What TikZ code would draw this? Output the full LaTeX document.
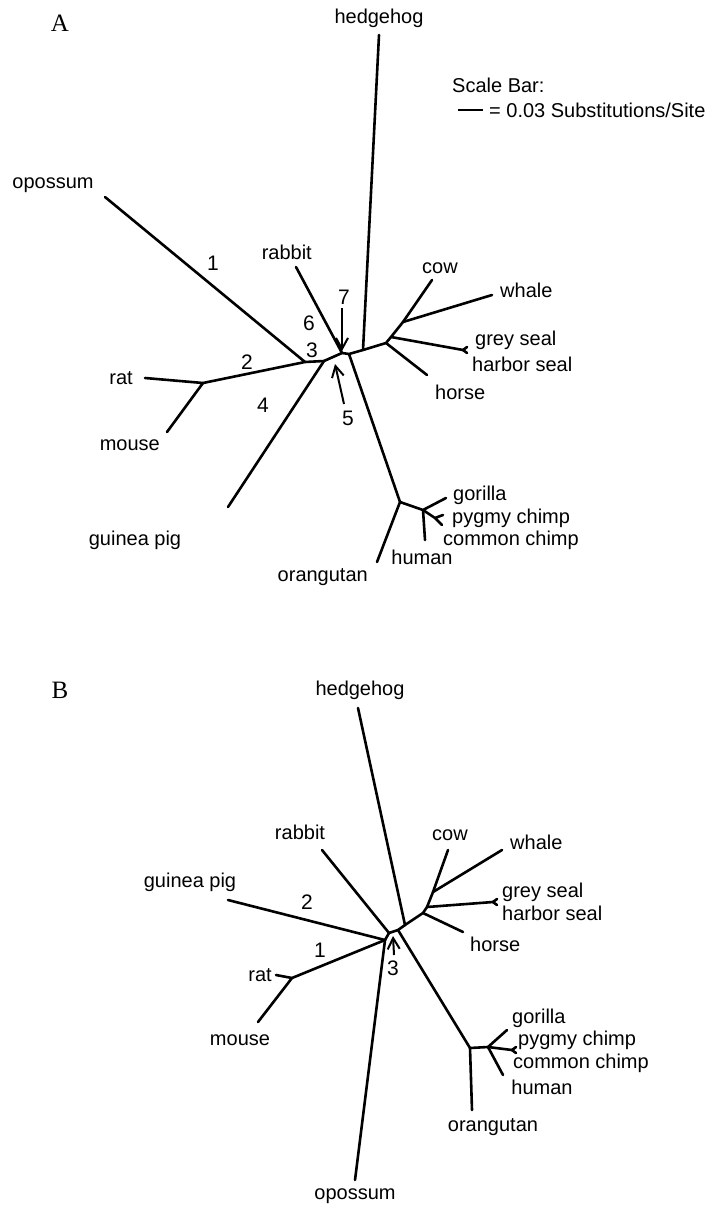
\documentclass[tikz,border=0pt]{standalone}
\usepackage{fontspec}
\setmainfont{Liberation Sans}
\newfontfamily\panelfont{Liberation Serif}
\usetikzlibrary{arrows.meta}
\begin{document}
\begin{tikzpicture}[x=1pt,y=-1pt,
  branch/.style={line width=2.6pt, line cap=round, line join=round},
  lbl/.style={font=\fontsize{20}{20}\selectfont, inner sep=0pt},
  num/.style={font=\fontsize{21}{21}\selectfont, inner sep=0pt},
  pointer/.style={line width=2pt, -{Straight Barb[length=11pt,width=12pt,line width=2pt]}},
  panel/.style={font=\panelfont\fontsize{25}{25}\selectfont, inner sep=0pt}]
\useasboundingbox (0,0) rectangle (707,1209);

% ---------------- Panel A ----------------
\node[panel] (pA) at (60,23) {A};

% internal nodes
\coordinate (aOp) at (305,362);
\coordinate (aGp) at (324,361);
\coordinate (aRb) at (342,353);
\coordinate (aPr) at (349,354);
\coordinate (aHh) at (363,350);
\coordinate (aHo) at (386,343);
\coordinate (aSl) at (391,337);
\coordinate (aCw) at (403,322);
\coordinate (aRm) at (203,383);
\coordinate (aPo) at (400,502);
\coordinate (aAp) at (423,510);
\coordinate (aCh) at (435,518);

% leaves
\coordinate (aOpT) at (105,197);
\coordinate (aRatT) at (145,378);
\coordinate (aMouseT) at (167,432);
\coordinate (aGpT) at (228,507);
\coordinate (aRbT) at (296,267);
\coordinate (aHhT) at (379,35);
\coordinate (aCowT) at (432,280);
\coordinate (aWhaleT) at (492,295);
\coordinate (aSealT) at (463,350);
\coordinate (aHorseT) at (427,375);
\coordinate (aOrT) at (377,562);
\coordinate (aGoT) at (446,498);
\coordinate (aPyT) at (443,515);
\coordinate (aCoT) at (442,525);
\coordinate (aHuT) at (425,540);

% backbone and branches
\draw[branch] (aRm) -- (aOp) -- (aGp) -- (aRb) -- (aPr) -- (aHh) -- (aHo) -- (aSl) -- (aCw);
\draw[branch] (aOpT) -- (aOp);
\draw[branch] (aRatT) -- (aRm) -- (aMouseT);
\draw[branch] (aGp) -- (aGpT);
\draw[branch] (aRbT) -- (aRb);
\draw[branch] (aHhT) -- (aHh);
\draw[branch] (aCw) -- (aCowT);
\draw[branch] (aCw) -- (aWhaleT);
\draw[branch] (aSl) -- (aSealT);
\draw[branch] (aSealT) -- ++(4,-3) (aSealT) -- ++(4,3);
\draw[branch] (aHo) -- (aHorseT);
\draw[branch] (aPr) -- (aPo) -- (aOrT);
\draw[branch] (aPo) -- (aAp) -- (aGoT);
\draw[branch] (aAp) -- (aCh) -- (aPyT) (aCh) -- (aCoT);
\draw[branch] (aAp) -- (aHuT);

% leaf labels
\node[lbl, anchor=center] (lOpA) at (53,185) {opossum};
\node[lbl, anchor=east] (lRatA) at (133,378) {rat};
\node[lbl, anchor=east] (lMouseA) at (160,445) {mouse};
\node[lbl] (lGpA) at (135,540) {guinea pig};
\node[lbl, anchor=east] (lRbA) at (312,252) {rabbit};
\node[lbl] (lHhA) at (379,18) {hedgehog};
\node[lbl] (lCowA) at (440,268) {cow};
\node[lbl, anchor=west] (lWhaleA) at (500,290) {whale};
\node[lbl, anchor=west] (lGreyA) at (475,340) {grey seal};
\node[lbl, anchor=west] (lHarborA) at (472,364) {harbor seal};
\node[lbl, anchor=west] (lHorseA) at (435,392) {horse};
\node[lbl, anchor=west] (lGoA) at (453,495) {gorilla};
\node[lbl, anchor=west] (lPyA) at (452,518) {pygmy chimp};
\node[lbl, anchor=west] (lCoA) at (443,540) {common chimp};
\node[lbl] (lHuA) at (422,557) {human};
\node[lbl, anchor=east] (lOrA) at (368,577) {orangutan};

% branch numbers
\node[num] (n1A) at (213,263) {1};
\node[num] (n2A) at (247,362) {2};
\node[num] (n3A) at (312,350) {3};
\node[num] (n4A) at (263,405) {4};
\node[num] (n5A) at (348,418) {5};
\node[num] (n6A) at (309,323) {6};
\node[num] (n7A) at (344,297) {7};
\coordinate (a7tail) at (342,308);
\coordinate (a7tip) at (342,351);
\coordinate (a5tail) at (344,404);
\coordinate (a5tip) at (335,364);
\draw[pointer] (a7tail) -- (a7tip);
\draw[pointer] (a5tail) -- (a5tip);

% scale bar
\node[lbl, anchor=west] (scaleT) at (452,85) {Scale Bar:};
\coordinate (sb1) at (458,110);
\coordinate (sb2) at (483,110);
\draw[line width=1.6pt] (sb1) -- (sb2);
\node[lbl, anchor=west] (scaleV) at (489,110) {= 0.03 Substitutions/Site};

% ---------------- Panel B ----------------
\node[panel] (pB) at (60,690) {B};

\coordinate (bL) at (385,940);
\coordinate (bRb) at (389,933);
\coordinate (bPr) at (398,930);
\coordinate (bHh) at (405,925);
\coordinate (bHo) at (423,913);
\coordinate (bSl) at (427,907);
\coordinate (bCw) at (433,892);
\coordinate (bRm) at (292,978);
\coordinate (bPo) at (470,1048);
\coordinate (bAp) at (488,1047);

\coordinate (bHhT) at (358,708);
\coordinate (bRbT) at (322,850);
\coordinate (bGpT) at (228,900);
\coordinate (bRatT) at (276,975);
\coordinate (bMouseT) at (258,1022);
\coordinate (bOpT) at (355,1180);
\coordinate (bCowT) at (448,850);
\coordinate (bWhaleT) at (502,850);
\coordinate (bSealT) at (493,902);
\coordinate (bHorseT) at (463,932);
\coordinate (bOrT) at (472,1110);
\coordinate (bGoT) at (507,1030);
\coordinate (bPyT) at (512,1050);
\coordinate (bHuT) at (503,1075);

\draw[branch] (bRm) -- (bL) -- (bRb) -- (bPr) -- (bHh) -- (bHo) -- (bSl) -- (bCw);
\draw[branch] (bRatT) -- (bRm) -- (bMouseT);
\draw[branch] (bGpT) -- (bL);
\draw[branch] (bL) -- (bOpT);
\draw[branch] (bRbT) -- (bRb);
\draw[branch] (bHhT) -- (bHh);
\draw[branch] (bCw) -- (bCowT);
\draw[branch] (bCw) -- (bWhaleT);
\draw[branch] (bSl) -- (bSealT);
\draw[branch] (bSealT) -- ++(4,-3) (bSealT) -- ++(4,3);
\draw[branch] (bHo) -- (bHorseT);
\draw[branch] (bPr) -- (bPo) -- (bOrT);
\draw[branch] (bPo) -- (bAp) -- (bGoT);
\draw[branch] (bAp) -- (bPyT);
\draw[branch] (bPyT) -- ++(4,-3) (bPyT) -- ++(4,3);
\draw[branch] (bAp) -- (bHuT);

\node[lbl] (lHhB) at (360,690) {hedgehog};
\node[lbl] (lRbB) at (300,832) {rabbit};
\node[lbl] (lGpB) at (190,882) {guinea pig};
\node[lbl, anchor=east] (lRatB) at (272,975) {rat};
\node[lbl] (lMouseB) at (240,1040) {mouse};
\node[lbl] (lOpB) at (355,1196) {opossum};
\node[lbl] (lCowB) at (450,835) {cow};
\node[lbl, anchor=west] (lWhaleB) at (510,842) {whale};
\node[lbl, anchor=west] (lGreyB) at (502,892) {grey seal};
\node[lbl, anchor=west] (lHarborB) at (502,913) {harbor seal};
\node[lbl, anchor=west] (lHorseB) at (470,944) {horse};
\node[lbl, anchor=west] (lGoB) at (512,1018) {gorilla};
\node[lbl, anchor=west] (lPyB) at (518,1040) {pygmy chimp};
\node[lbl, anchor=west] (lCoB) at (513,1063) {common chimp};
\node[lbl] (lHuB) at (542,1087) {human};
\node[lbl] (lOrB) at (493,1127) {orangutan};

\node[num] (n1B) at (320,950) {1};
\node[num] (n2B) at (307,902) {2};
\node[num] (n3B) at (393,968) {3};
\coordinate (b3tail) at (394,955);
\coordinate (b3tip) at (393,936);
\draw[pointer] (b3tail) -- (b3tip);
\end{tikzpicture}
\end{document}
